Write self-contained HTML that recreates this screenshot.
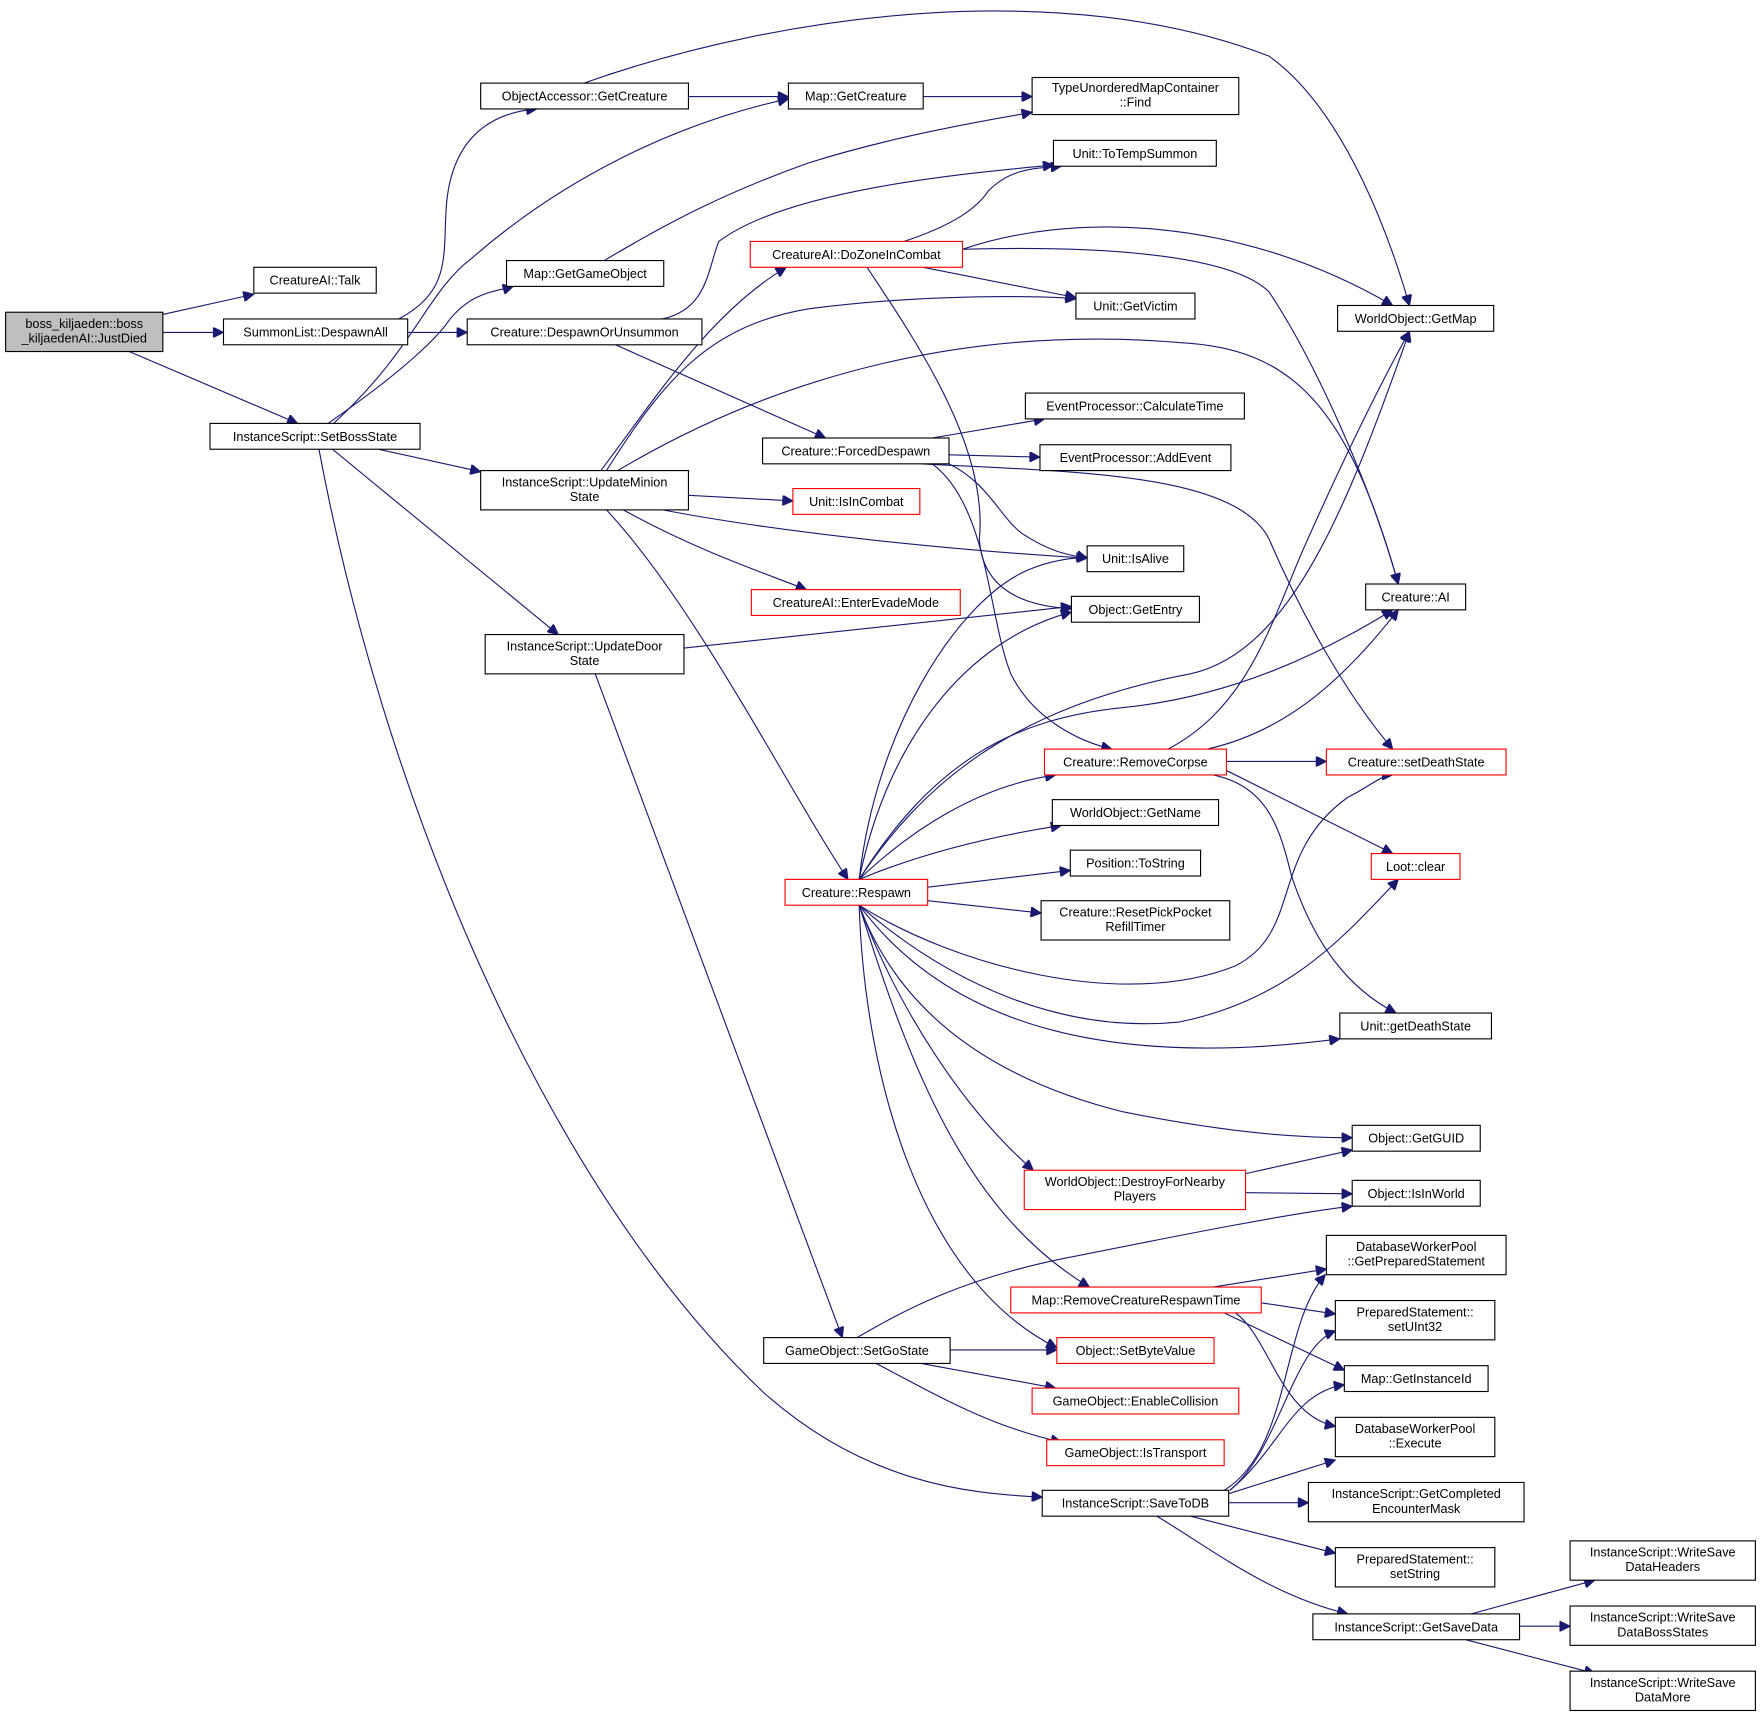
<!DOCTYPE html>
<html><head><meta charset="utf-8"><style>
html,body{margin:0;padding:0;background:#fff;}
svg{display:block;}
text{font-family:"Liberation Sans","DejaVu Sans",sans-serif;font-size:11.3px;fill:#000;text-anchor:middle;}
.n{fill:#fff;stroke:#000;stroke-width:1;}
.r{fill:#fff;stroke:#ff0000;stroke-width:1;}
.g{fill:#bfbfbf;stroke:#000;stroke-width:1;}
path{fill:none;stroke:#191970;stroke-width:1;marker-end:url(#a);}
</style></head><body>
<svg width="1761" height="1719" viewBox="0 0 1568 1530.6" xmlns="http://www.w3.org/2000/svg">
<defs><marker id="a" viewBox="0 0 10 10" refX="10" refY="5" markerWidth="11" markerHeight="9" markerUnits="userSpaceOnUse" orient="auto"><path d="M0,0 L10,5 L0,10 z" style="fill:#191970;stroke:#191970;marker-end:none"/></marker></defs>

<!-- edges -->
<path d="M145,280 L226,262"/>
<path d="M145,296 L199,296"/>
<path d="M115,313 L265,377"/>
<path d="M355,284 C400,260 395,230 397,190 C400,120 440,100 478,97"/>
<path d="M363,296 L416,296"/>
<path d="M297,377 C370,310 380,260 420,230 C500,160 600,110 702,88"/>
<path d="M292,377 C360,330 390,300 400,285 C420,260 440,260 457,255"/>
<path d="M613,86 L702,86"/>
<path d="M520,74 C700,10 950,-20 1130,50 C1200,100 1240,220 1255,272"/>
<path d="M822,86 L919,86"/>
<path d="M538,232 C600,195 650,170 720,145 C800,120 880,107 919,100"/>
<path d="M590,284 C630,275 630,240 640,215 C700,170 850,155 938,147"/>
<path d="M548,307 L735,390"/>
<path d="M337,400 L428,420"/>
<path d="M296,400 L497,565"/>
<path d="M284,400 C340,700 480,1050 680,1240 C770,1320 860,1330 928,1333"/>
<path d="M535,419 C580,360 630,280 700,238"/>
<path d="M540,419 C590,340 630,290 720,275 C820,262 920,263 958,266"/>
<path d="M550,419 C700,330 870,290 1050,305 C1150,310 1200,360 1245,520"/>
<path d="M613,441 L706,446"/>
<path d="M590,454 C700,475 850,490 968,497"/>
<path d="M555,454 C620,490 680,510 718,525"/>
<path d="M540,454 C620,540 700,700 755,783"/>
<path d="M609,577 L954,540"/>
<path d="M530,600 L750,1191"/>
<path d="M805,215 C850,200 870,185 880,170 C900,150 920,150 945,148"/>
<path d="M857,222 C950,190 1100,190 1240,272"/>
<path d="M857,222 C1000,218 1100,230 1130,260 C1170,320 1220,430 1245,520"/>
<path d="M822,238 L958,265"/>
<path d="M772,238 C820,310 880,400 872,480 C875,530 920,540 954,542"/>
<path d="M830,390 L930,373"/>
<path d="M845,405 L926,407"/>
<path d="M845,413 C880,430 890,460 910,475 C940,495 960,495 968,497"/>
<path d="M830,413 C880,450 880,550 900,600 C920,640 960,660 990,667"/>
<path d="M820,413 C950,420 1100,420 1130,480 C1160,550 1200,620 1240,667"/>
<path d="M1040,667 C1110,630 1130,560 1160,490 C1200,400 1230,340 1255,295"/>
<path d="M1075,667 C1150,650 1200,600 1245,543"/>
<path d="M1092,678 L1181,678"/>
<path d="M1092,686 L1240,760"/>
<path d="M1080,690 C1130,700 1140,740 1150,780 C1170,840 1200,880 1243,902"/>
<path d="M765,783 C780,650 850,540 910,510 C930,500 950,497 968,496"/>
<path d="M765,783 C790,660 860,570 954,545"/>
<path d="M765,783 C820,700 900,630 1060,600 C1150,580 1200,450 1255,295"/>
<path d="M765,783 C830,680 900,640 1000,630 C1100,620 1180,580 1240,543"/>
<path d="M765,783 C810,740 870,700 940,690"/>
<path d="M765,783 C820,760 880,745 945,735"/>
<path d="M826,790 L953,775"/>
<path d="M826,802 L927,813"/>
<path d="M765,806 C850,860 1000,900 1100,860 C1160,830 1130,760 1200,710 C1220,700 1230,690 1240,690"/>
<path d="M765,806 C850,880 950,920 1050,910 C1150,890 1200,830 1245,783"/>
<path d="M765,806 C850,920 1000,950 1193,925"/>
<path d="M765,806 C800,900 880,960 1000,990 C1100,1010 1160,1013 1204,1013"/>
<path d="M765,806 C800,900 860,990 920,1042"/>
<path d="M765,806 C810,950 860,1080 970,1146"/>
<path d="M765,806 C770,960 820,1140 941,1200"/>
<path d="M1109,1045 L1204,1024"/>
<path d="M1109,1062 L1204,1063"/>
<path d="M1080,1146 L1181,1130"/>
<path d="M1123,1160 L1189,1170"/>
<path d="M1090,1169 L1197,1220"/>
<path d="M1100,1169 C1130,1190 1140,1260 1189,1270"/>
<path d="M846,1202 L941,1202"/>
<path d="M820,1214 L940,1236"/>
<path d="M780,1214 C830,1240 880,1270 945,1284"/>
<path d="M763,1191 C800,1170 850,1140 950,1120 C1050,1100 1150,1080 1204,1074"/>
<path d="M1090,1327 C1150,1290 1140,1180 1180,1135"/>
<path d="M1095,1327 C1140,1290 1150,1200 1189,1185"/>
<path d="M1095,1327 C1140,1290 1150,1240 1197,1233"/>
<path d="M1094,1330 L1189,1300"/>
<path d="M1094,1338 L1165,1338"/>
<path d="M1060,1350 L1189,1383"/>
<path d="M1030,1350 C1080,1380 1130,1420 1200,1437"/>
<path d="M1310,1437 L1420,1407"/>
<path d="M1353,1448 L1398,1448"/>
<path d="M1305,1460 L1420,1490"/>

<!-- nodes -->
<rect class="g" x="5" y="278" width="140" height="35"/><text x="75" y="292">boss_kiljaeden::boss</text><text x="75" y="305">_kiljaedenAI::JustDied</text>
<rect class="n" x="226" y="238" width="109" height="23"/><text x="280.5" y="253.5">CreatureAI::Talk</text>
<rect class="n" x="199" y="284" width="164" height="23"/><text x="281" y="299.5">SummonList::DespawnAll</text>
<rect class="n" x="187" y="377" width="187" height="23"/><text x="280.5" y="392.5">InstanceScript::SetBossState</text>
<rect class="n" x="428" y="74" width="185" height="23"/><text x="520.5" y="89.5">ObjectAccessor::GetCreature</text>
<rect class="n" x="702" y="74" width="120" height="23"/><text x="762" y="89.5">Map::GetCreature</text>
<rect class="n" x="919" y="69" width="184" height="33"/><text x="1011" y="82">TypeUnorderedMapContainer</text><text x="1011" y="95">::Find</text>
<rect class="n" x="451" y="232" width="140" height="23"/><text x="521" y="247.5">Map::GetGameObject</text>
<rect class="n" x="416" y="284" width="209" height="23"/><text x="520.5" y="299.5">Creature::DespawnOrUnsummon</text>
<rect class="n" x="938" y="125" width="145" height="23"/><text x="1010.5" y="140.5">Unit::ToTempSummon</text>
<rect class="r" x="668" y="215" width="189" height="23"/><text x="762.5" y="230.5">CreatureAI::DoZoneInCombat</text>
<rect class="n" x="958" y="261" width="106" height="23"/><text x="1011" y="276.5">Unit::GetVictim</text>
<rect class="n" x="1191" y="272" width="139" height="23"/><text x="1260.5" y="287.5">WorldObject::GetMap</text>
<rect class="n" x="913" y="350" width="195" height="23"/><text x="1010.5" y="365.5">EventProcessor::CalculateTime</text>
<rect class="n" x="679" y="390" width="166" height="23"/><text x="762" y="405.5">Creature::ForcedDespawn</text>
<rect class="n" x="926" y="396" width="170" height="23"/><text x="1011" y="411.5">EventProcessor::AddEvent</text>
<rect class="n" x="428" y="419" width="185" height="35"/><text x="520.5" y="433">InstanceScript::UpdateMinion</text><text x="520.5" y="446">State</text>
<rect class="r" x="706" y="435" width="113" height="23"/><text x="762.5" y="450.5">Unit::IsInCombat</text>
<rect class="n" x="968" y="486" width="86" height="23"/><text x="1011" y="501.5">Unit::IsAlive</text>
<rect class="n" x="1216" y="520" width="89" height="23"/><text x="1260.5" y="535.5">Creature::AI</text>
<rect class="r" x="669" y="525" width="186" height="23"/><text x="762" y="540.5">CreatureAI::EnterEvadeMode</text>
<rect class="n" x="954" y="531" width="114" height="23"/><text x="1011" y="546.5">Object::GetEntry</text>
<rect class="n" x="432" y="565" width="177" height="35"/><text x="520.5" y="579">InstanceScript::UpdateDoor</text><text x="520.5" y="592">State</text>
<rect class="r" x="930" y="667" width="162" height="23"/><text x="1011" y="682.5">Creature::RemoveCorpse</text>
<rect class="r" x="1181" y="667" width="160" height="23"/><text x="1261" y="682.5">Creature::setDeathState</text>
<rect class="n" x="937" y="712" width="148" height="23"/><text x="1011" y="727.5">WorldObject::GetName</text>
<rect class="n" x="953" y="757" width="116" height="23"/><text x="1011" y="772.5">Position::ToString</text>
<rect class="r" x="1221" y="760" width="79" height="23"/><text x="1260.5" y="775.5">Loot::clear</text>
<rect class="r" x="699" y="783" width="127" height="23"/><text x="762.5" y="798.5">Creature::Respawn</text>
<rect class="n" x="927" y="802" width="168" height="35"/><text x="1011" y="816">Creature::ResetPickPocket</text><text x="1011" y="829">RefillTimer</text>
<rect class="n" x="1193" y="902" width="135" height="23"/><text x="1260.5" y="917.5">Unit::getDeathState</text>
<rect class="n" x="1204" y="1002" width="114" height="23"/><text x="1261" y="1017.5">Object::GetGUID</text>
<rect class="r" x="912" y="1042" width="197" height="35"/><text x="1010.5" y="1056">WorldObject::DestroyForNearby</text><text x="1010.5" y="1069">Players</text>
<rect class="n" x="1204" y="1051" width="114" height="23"/><text x="1261" y="1066.5">Object::IsInWorld</text>
<rect class="n" x="1181" y="1100" width="160" height="35"/><text x="1261" y="1114">DatabaseWorkerPool</text><text x="1261" y="1127">::GetPreparedStatement</text>
<rect class="r" x="900" y="1146" width="223" height="23"/><text x="1011.5" y="1161.5">Map::RemoveCreatureRespawnTime</text>
<rect class="n" x="1189" y="1158" width="142" height="35"/><text x="1260" y="1172">PreparedStatement::</text><text x="1260" y="1185">setUInt32</text>
<rect class="n" x="680" y="1191" width="166" height="23"/><text x="763" y="1206.5">GameObject::SetGoState</text>
<rect class="r" x="941" y="1191" width="140" height="23"/><text x="1011" y="1206.5">Object::SetByteValue</text>
<rect class="n" x="1197" y="1216" width="128" height="23"/><text x="1261" y="1231.5">Map::GetInstanceId</text>
<rect class="r" x="919" y="1236" width="184" height="23"/><text x="1011" y="1251.5">GameObject::EnableCollision</text>
<rect class="n" x="1189" y="1262" width="142" height="35"/><text x="1260" y="1276">DatabaseWorkerPool</text><text x="1260" y="1289">::Execute</text>
<rect class="r" x="932" y="1282" width="158" height="23"/><text x="1011" y="1297.5">GameObject::IsTransport</text>
<rect class="n" x="928" y="1327" width="166" height="23"/><text x="1011" y="1342.5">InstanceScript::SaveToDB</text>
<rect class="n" x="1165" y="1320" width="192" height="35"/><text x="1261" y="1334">InstanceScript::GetCompleted</text><text x="1261" y="1347">EncounterMask</text>
<rect class="n" x="1189" y="1378" width="142" height="35"/><text x="1260" y="1392">PreparedStatement::</text><text x="1260" y="1405">setString</text>
<rect class="n" x="1169" y="1437" width="184" height="23"/><text x="1261" y="1452.5">InstanceScript::GetSaveData</text>
<rect class="n" x="1398" y="1372" width="165" height="35"/><text x="1480.5" y="1386">InstanceScript::WriteSave</text><text x="1480.5" y="1399">DataHeaders</text>
<rect class="n" x="1398" y="1430" width="165" height="35"/><text x="1480.5" y="1444">InstanceScript::WriteSave</text><text x="1480.5" y="1457">DataBossStates</text>
<rect class="n" x="1398" y="1488" width="165" height="35"/><text x="1480.5" y="1502">InstanceScript::WriteSave</text><text x="1480.5" y="1515">DataMore</text>
</svg>
</body></html>
